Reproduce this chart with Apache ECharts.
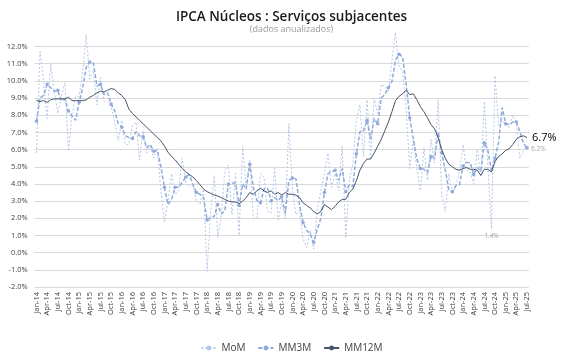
<!DOCTYPE html>
<html>
<head>
<meta charset="utf-8">
<script src="https://cdn.jsdelivr.net/npm/echarts@6/dist/echarts.min.js"></script>
<style>
html,body{margin:0;padding:0;background:#fff;}
#chart{width:583px;height:363px;}
</style>
</head>
<body>
<div id="chart"></div>
<script>
// ---- data ----
const monthNames = ['Jan','Feb','Mar','Apr','May','Jun','Jul','Aug','Sep','Oct','Nov','Dec'];
const startYear = 14, endYear = 25, endMonth = 6; // Jan-14 .. Jul-25
const categories = [];
for (let y = startYear; y <= endYear; y++) {
  for (let m = 0; m < 12; m++) {
    if (y === endYear && m > endMonth) break;
    categories.push(monthNames[m] + '-' + y);
  }
}

const mom = [
  5.8,11.7,9.9,7.8,11.0,9.4,8.1,9.1,9.9,5.9,8.1,9.1,
  9.1,10.5,12.7,10.1,10.6,8.6,10.2,8.8,8.8,8.5,7.6,6.5,
  7.7,6.3,6.3,7.4,7.6,5.4,7.1,5.8,6.2,5.5,6.1,3.6,
  1.8,3.0,4.6,3.4,3.6,5.5,4.1,3.8,4.0,3.0,2.8,3.7,
  -1.1,2.4,4.5,0.9,2.2,4.8,5.1,2.2,4.6,1.0,6.2,3.9,
  5.4,2.0,2.0,4.6,4.4,2.4,2.3,4.9,1.9,3.0,2.0,7.5,
  3.7,2.2,2.5,0.8,0.3,1.3,0.2,2.5,3.6,4.6,5.8,3.8,
  4.6,3.6,6.2,0.9,4.2,5.2,7.7,8.6,5.6,8.9,5.5,9.0,
  8.1,9.8,9.7,9.4,11.2,12.8,10.8,10.6,8.3,4.9,6.6,4.9,
  3.6,6.1,4.2,6.6,5.2,8.9,3.4,2.4,4.6,3.4,3.9,4.7,
  6.3,4.8,4.7,4.0,6.0,4.4,8.8,5.0,1.4,10.3,7.4,7.7,
  7.4,7.3,8.0,7.5,5.5,5.9,6.2
];

const mm3m = [
  7.65,9.0,9.15,9.8,9.6,9.4,9.45,8.85,8.95,8.25,7.95,7.7,
  8.75,9.6,10.8,11.1,11.05,9.7,9.8,9.2,9.3,8.65,8.25,7.5,
  7.3,6.8,6.7,6.65,7.05,6.8,6.75,6.1,6.3,5.9,5.95,5.0,
  3.8,2.8,3.1,3.8,3.8,4.1,4.4,4.55,3.95,3.5,3.4,3.2,
  1.9,2.05,2.1,2.8,2.25,2.45,4.0,4.05,4.05,2.75,4.0,3.7,
  5.15,3.8,3.05,2.9,3.7,3.75,3.0,3.2,3.05,3.25,2.3,4.2,
  4.35,4.3,2.8,1.75,1.3,1.1,0.6,1.35,2.0,3.5,4.6,4.7,
  4.8,4.2,4.9,3.55,3.95,3.85,5.75,7.05,7.1,7.7,6.6,7.8,
  7.5,9.0,9.2,9.6,9.95,11.2,11.55,11.4,9.8,7.85,6.65,5.45,
  4.9,4.85,4.65,5.6,5.5,7.0,5.8,4.8,3.65,3.55,3.9,3.95,
  5.05,5.25,5.25,4.55,4.95,4.75,6.4,5.95,4.75,5.5,6.4,8.45,
  7.5,7.45,7.6,7.6,7.05,6.35,6.1
];

const mm12m = [
  8.85,8.8,8.85,8.75,8.9,8.95,8.95,8.95,8.95,9.05,8.85,8.85,
  8.85,8.85,8.9,9.05,9.15,9.3,9.4,9.35,9.45,9.55,9.5,9.3,
  9.15,8.9,8.35,8.1,7.9,7.7,7.5,7.3,7.1,6.9,6.7,6.5,
  6.2,5.85,5.6,5.4,5.15,4.9,4.7,4.55,4.4,4.2,3.95,3.7,
  3.55,3.45,3.35,3.3,3.2,3.1,3.0,2.95,2.95,2.85,3.0,3.2,
  3.5,3.4,3.6,3.75,3.6,3.5,3.6,3.4,3.5,3.35,3.5,3.4,
  3.4,3.35,3.2,2.9,2.75,2.6,2.4,2.25,2.4,2.8,2.65,2.5,
  2.7,2.95,3.1,3.1,3.5,3.7,4.2,4.8,5.2,5.45,5.45,5.8,
  6.2,6.6,7.1,7.6,8.2,8.85,9.1,9.25,9.45,9.2,9.25,8.9,
  8.5,8.2,7.85,7.45,7.2,6.7,6.0,5.5,5.15,5.0,4.85,4.8,
  4.9,4.95,4.85,4.85,4.8,4.5,4.85,4.85,4.7,5.3,5.6,5.75,
  5.95,6.05,6.3,6.6,6.75,6.8,6.7
];

const yTicks = { min: -2, max: 12, step: 1 };
const momLabelledLow = 'Sep-24';

// ---- chart ----
const pct = v => v.toFixed(1) + '%';
const FONT = '"Open Sans", "Liberation Sans", sans-serif';
const lowIdx = categories.indexOf(momLabelledLow);

const chart = echarts.init(document.getElementById('chart'), null, { renderer: 'canvas' });
chart.setOption({
  animation: false,
  backgroundColor: '#ffffff',
  title: {
    text: 'IPCA Núcleos : Serviços subjacentes',
    subtext: '(dados anualizados)',
    left: 'center',
    top: 5,
    itemGap: 1,
    textStyle: { fontFamily: FONT, fontSize: 13.5, fontWeight: 600, color: '#1a1a1a' },
    subtextStyle: { fontFamily: FONT, fontSize: 9, color: '#9a9a9a' }
  },
  legend: {
    bottom: 5,
    left: 'center',
    itemWidth: 15,
    itemHeight: 6,
    itemGap: 12,
    textStyle: { fontFamily: FONT, fontSize: 10, color: '#404040' },
    data: ['MoM', 'MM3M', 'MM12M']
  },
  grid: { left: 34.7, right: 54.2, top: 46.5, bottom: 76 },
  xAxis: {
    type: 'category',
    data: categories,
    boundaryGap: true,
    axisLine: { show: true, lineStyle: { color: '#d9d9d9', width: 1 } },
    axisTick: { show: false },
    axisLabel: {
      interval: 2,
      rotate: 90,
      margin: 5,
      fontFamily: FONT,
      fontSize: 7.5,
      color: '#404040'
    },
    splitLine: { show: false }
  },
  yAxis: {
    type: 'value',
    min: yTicks.min,
    max: yTicks.max,
    interval: yTicks.step,
    axisLine: { show: false },
    axisTick: { show: false },
    axisLabel: { formatter: pct, fontFamily: FONT, fontSize: 7.5, color: '#404040', margin: 7 },
    splitLine: { lineStyle: { color: '#d9d9d9', width: 1 } }
  },
  series: [
    {
      name: 'MoM',
      type: 'line',
      data: mom,
      clip: false,
      symbol: 'none',
      lineStyle: { color: '#b4c7e7', width: 1, type: [2, 2] },
      itemStyle: { color: '#b4c7e7' },
      endLabel: { show: true, formatter: p => pct(p.value), fontSize: 6.5, color: '#a6a6a6', fontFamily: FONT, distance: 4, offset: [0, 3] },
      markPoint: {
        symbol: 'circle',
        symbolSize: 1,
        itemStyle: { color: 'rgba(0,0,0,0)' },
        label: { show: true, position: 'bottom', distance: 4, formatter: p => pct(p.value), fontSize: 6.5, color: '#a6a6a6', fontFamily: FONT },
        data: [{ coord: [lowIdx, mom[lowIdx]], value: mom[lowIdx] }]
      },
      z: 1
    },
    {
      name: 'MM3M',
      type: 'line',
      data: mm3m,
      symbol: 'circle',
      symbolSize: 3.5,
      showSymbol: true,
      lineStyle: { color: '#8faadc', width: 1.5, type: [4, 2] },
      itemStyle: { color: '#8faadc' },
      z: 2
    },
    {
      name: 'MM12M',
      type: 'line',
      data: mm12m,
      symbol: 'none',
      lineStyle: { color: '#44546a', width: 1 },
      itemStyle: { color: '#44546a' },
      endLabel: { show: true, formatter: p => pct(p.value), fontSize: 11, fontWeight: 500, color: '#000', fontFamily: FONT, distance: 5 },
      z: 3
    }
  ]
});
</script>
</body>
</html>
